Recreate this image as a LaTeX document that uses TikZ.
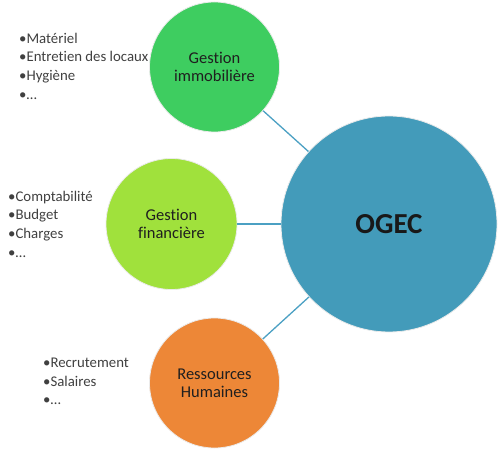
\documentclass[tikz,border=0pt]{standalone}
\usepackage{fontspec}
\setmainfont{Carlito}[Ligatures=CommonOff]
\usepackage{tikz}
\usetikzlibrary{positioning}
\definecolor{immogreen}{RGB}{62,205,96}
\definecolor{finagreen}{RGB}{160,225,60}
\definecolor{rhorange}{RGB}{237,135,55}
\definecolor{ogecblue}{RGB}{67,155,186}
\definecolor{linkblue}{RGB}{75,160,195}

\begin{document}
\begin{tikzpicture}[x=1pt,y=1pt]
        %
        % `pole' is used for the three small circles.
        % `centre' is used for the big OGEC circle.
        % `liste' is used for the bullet lists beside the circles.
        \tikzstyle{pole} = [circle,draw=black!8,line width=.8pt,minimum size=130pt,inner sep=0pt,align=center,font=\fontsize{16.5}{18}\selectfont,text=black!88]
        \tikzstyle{centre} = [circle,draw=black!8,line width=.8pt,minimum size=216pt,inner sep=0pt,fill=ogecblue,font=\fontsize{29}{32}\selectfont\bfseries,text=black!90]
        \tikzstyle{liste} = [anchor=west,inner sep=0pt,align=left,font=\fontsize{14.8}{18.7}\selectfont,text=black!75]
        \tikzstyle{lien} = [draw=linkblue,line width=1.3pt]
        \useasboundingbox (0,0) rectangle (500,450);
        %
        % Circles
        \node[centre] (ogec) at (389,226) {OGEC};
        \node[pole,fill=immogreen] (immo) at (214.5,383) {Gestion\\immobilière};
        \node[pole,fill=finagreen,minimum size=131pt] (fina) at (171.5,226) {Gestion\\financière};
        \node[pole,fill=rhorange] (rh) at (214.5,67) {Ressources\\Humaines};
        %
        % Links
        \draw[lien] (immo) -- (ogec);
        \draw[lien] (fina) -- (ogec);
        \draw[lien] (rh) -- (ogec);
        %
        % Lists
        \node[liste] (lstimmo) at (19,384) {•Matériel\\•Entretien des locaux\\•Hygiène\\•…};
        \node[liste] (lstfina) at (8,226) {•Comptabilité\\•Budget\\•Charges\\•…};
        \node[liste] (lstrh) at (43,68.5) {•Recrutement\\•Salaires\\•…};
        %
\end{tikzpicture}
\end{document}
